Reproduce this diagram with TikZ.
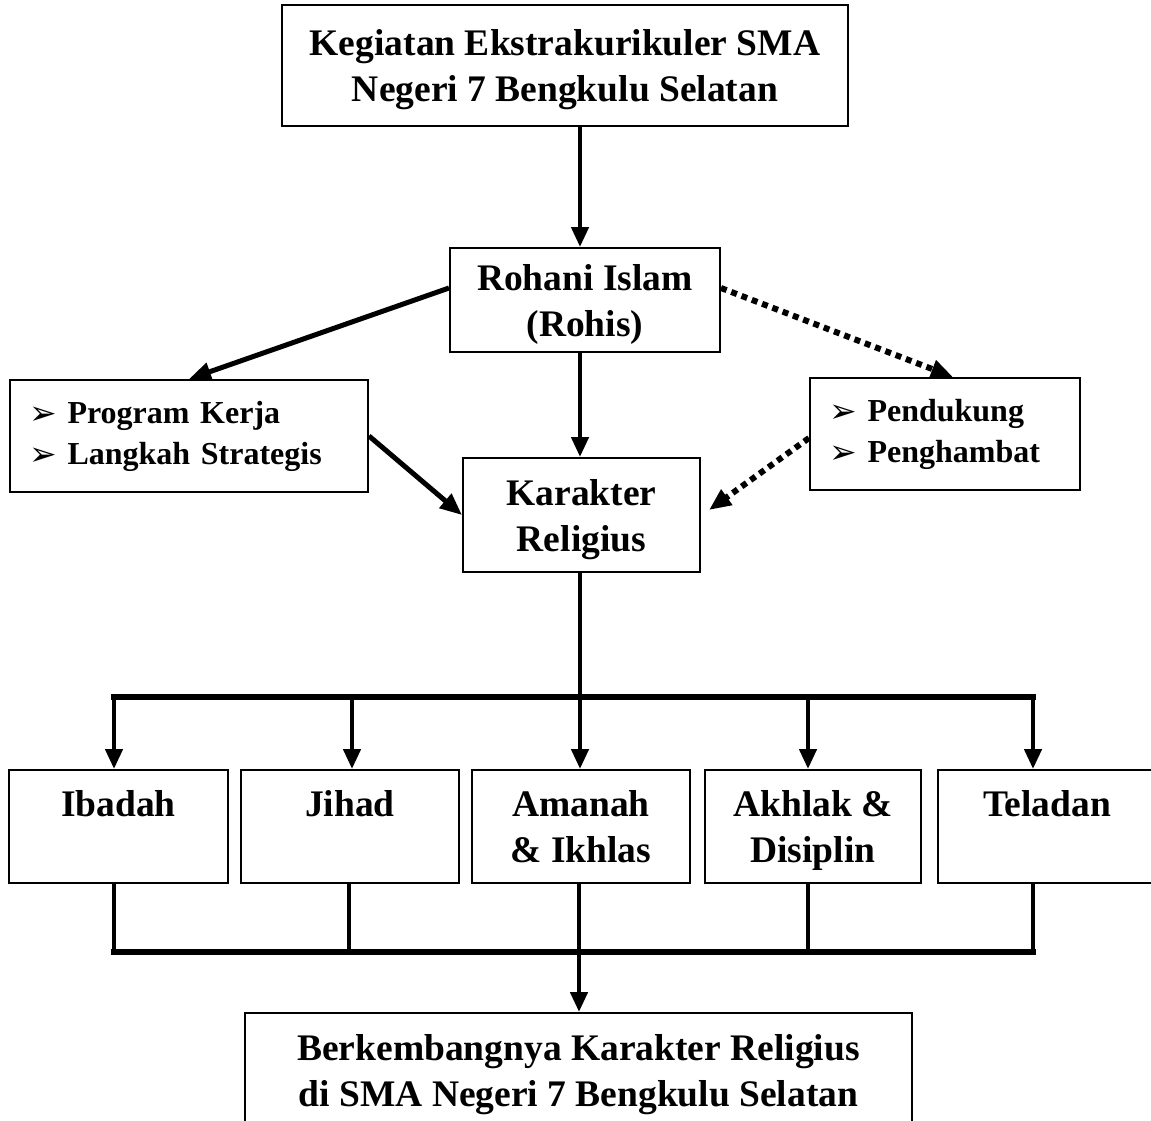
\documentclass[tikz,border=0pt]{standalone}
\usepackage{fontspec}
\setmainfont{Liberation Serif}
\newfontfamily\dejavu{DejaVu Sans}
\usetikzlibrary{arrows.meta,calc}
\newcommand\bul{\makebox[38.5pt][l]{\raisebox{-1pt}{\dejavu\fontsize{33}{33}\selectfont ➢}}}
\newcommand\hs{\rule[-10pt]{0pt}{46pt}}
\begin{document}
\begin{tikzpicture}[x=1pt,y=-1pt,
 box/.style={draw,line width=2pt,inner sep=0pt,align=center,font=\bfseries\fontsize{37.5}{46}\selectfont},
 lbox/.style={draw,line width=2pt,inner ysep=0pt,align=left,font=\bfseries\fontsize{32}{41}\selectfont},
 arr/.style={line width=4.5pt,-{Triangle[length=20pt,width=17pt]}},
 darr/.style={line width=5pt,-{Triangle[length=22pt,width=18pt]}},
 dotarr/.style={line width=6pt,dash pattern=on 6pt off 5pt,-{Triangle[length=22pt,width=18pt]}},
 bar/.style={line width=6pt,line cap=rect}]
\useasboundingbox (0,0) rectangle (1151,1121);
% nodes
\node[box,minimum width=566pt,minimum height=121pt] (top) at (565,65.5) {Kegiatan Ekstrakurikuler SMA\hs\\Negeri 7 Bengkulu Selatan\hs};
\node[box,minimum width=270pt,minimum height=104pt] (rohis) at (585,300) {Rohani Islam\hs\\(Rohis)\hs};
\node[box,minimum width=237pt,minimum height=114pt] (kar) at (581.5,515) {Karakter\hs\\Religius\hs};
\node[lbox,minimum width=358pt,minimum height=112pt,text width=320pt,inner xsep=19pt] (pk) at (189,436) {\bul Program Kerja\\\bul Langkah Strategis};
\node[lbox,minimum width=270pt,minimum height=112pt,text width=232pt,inner xsep=19pt] (pd) at (945,434) {\bul Pendukung\\\bul Penghambat};
\node[box,minimum width=219pt,minimum height=113pt] (b1) at (118.5,826.5) {Ibadah\hs\\\hs};
\node[box,minimum width=218pt,minimum height=113pt] (b2) at (350,826.5) {Jihad\hs\\\hs};
\node[box,minimum width=218pt,minimum height=113pt] (b3) at (581,826.5) {Amanah\hs\\\& Ikhlas\hs};
\node[box,minimum width=216pt,minimum height=113pt] (b4) at (813,826.5) {Akhlak \&\hs\\Disiplin\hs};
\node[box,minimum width=218pt,minimum height=113pt] (b5) at (1047,826.5) {Teladan\hs\\\hs};
\node[box,minimum width=667pt,minimum height=114pt] (fin) at (578.5,1070) {Berkembangnya Karakter Religius\hs\\di SMA Negeri 7 Bengkulu Selatan\hs};
% coordinates
\coordinate (cx) at (580,0);
\coordinate (u1) at (114,697);
\coordinate (u2) at (352,697);
\coordinate (u3) at (580,697);
\coordinate (u4) at (808,697);
\coordinate (u5) at (1033,697);
\coordinate (l1) at (114,952);
\coordinate (l2) at (349,952);
\coordinate (l3) at (579,952);
\coordinate (l4) at (808,952);
\coordinate (l5) at (1033,952);
% connectors
\draw[arr] (top.south -| cx) -- (rohis.north -| cx);
\draw[arr] (rohis.south -| cx) -- (kar.north -| cx);
\draw[darr] ($(rohis.west)+(0,-12)$) -- (pk.north);
\draw[darr] (pk.east) -- (kar.west);
\draw[dotarr] ($(rohis.east)+(0,-12)$) -- ($(pd.north)+(8,0)$);
\draw[dotarr] ($(pd.west)+(0,4)$) -- ($(kar.east)+(8,-5)$);
\draw[line width=4.5pt] (kar.south -| u3) -- (u3);
\draw[bar] (u1) -- (u5);
\foreach \i in {1,...,5} {\draw[arr] (u\i) -- (u\i |- b\i.north);}
\foreach \i in {1,...,5} {\draw[line width=4.5pt] (l\i |- b\i.south) -- (l\i);}
\draw[bar] (l1) -- (l5);
\draw[arr] (l3) -- (l3 |- fin.north);
\end{tikzpicture}
\end{document}
